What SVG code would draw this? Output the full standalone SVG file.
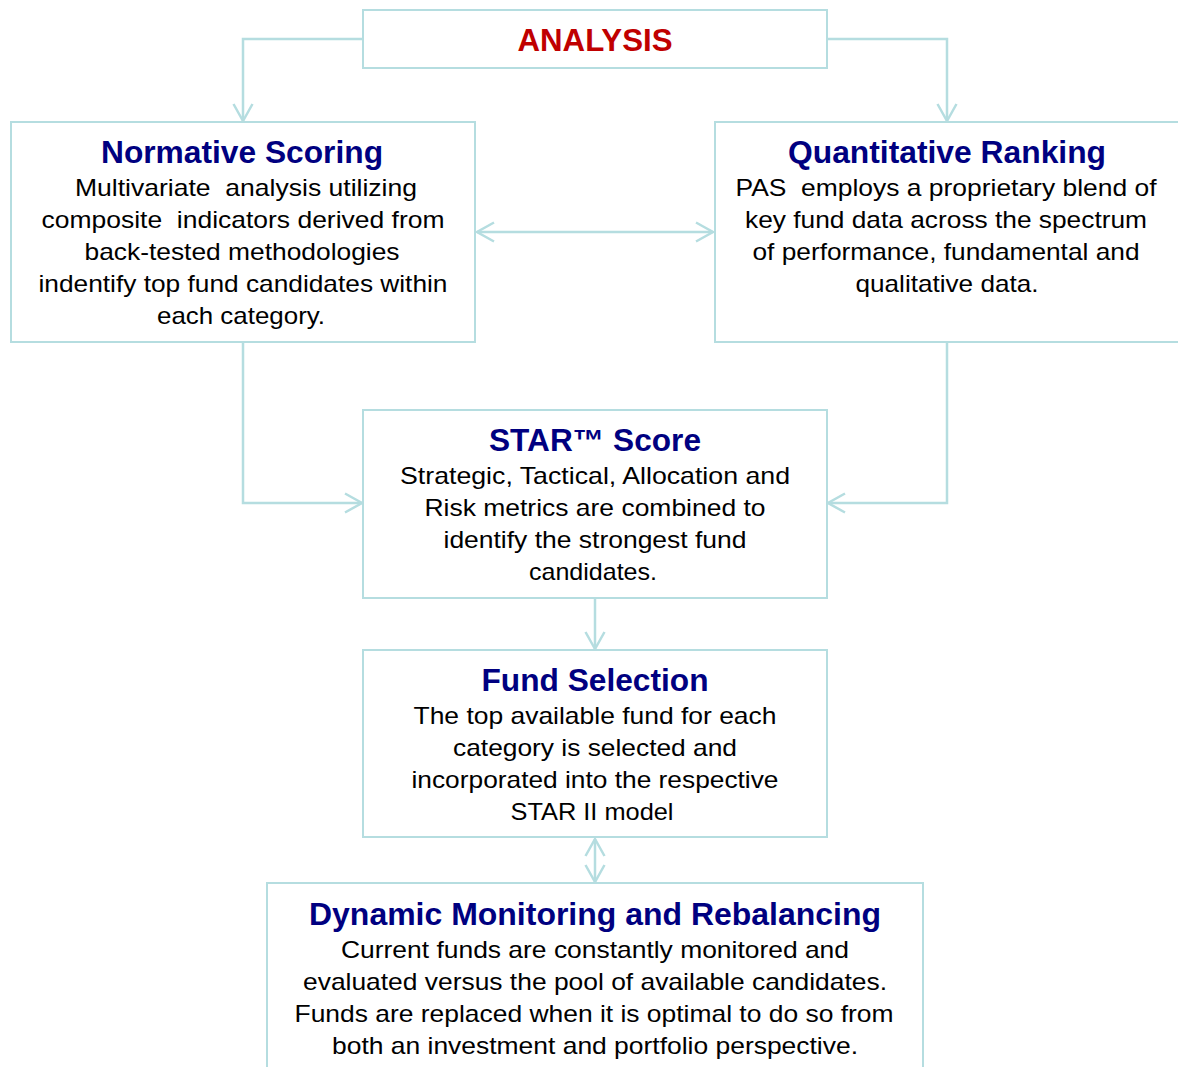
<svg xmlns="http://www.w3.org/2000/svg" width="1178" height="1067" viewBox="0 0 1178 1067">
<defs>
<style>
.box{fill:#fff;stroke:#B5DDE0;stroke-width:2}
.con{fill:none;stroke:#B5DDE0;stroke-width:2.5}
.title{font-family:"Liberation Sans",Arial,sans-serif;font-weight:bold;font-size:31px;fill:#000080;text-anchor:middle}
.body{font-family:"Liberation Sans",Arial,sans-serif;font-size:24px;fill:#000;text-anchor:middle;white-space:pre}
.head{font-family:"Liberation Sans",Arial,sans-serif;font-weight:bold;font-size:32px;fill:#C00000;text-anchor:middle}
</style>
<marker id="arr" markerUnits="userSpaceOnUse" markerWidth="24" markerHeight="24" viewBox="-20 -12 22 24" refX="0" refY="0" orient="auto-start-reverse">
<path d="M-17,-9.5 L0,0 L-17,9.5" fill="none" stroke="#B5DDE0" stroke-width="2.5"/>
</marker>
</defs>
<rect width="1178" height="1067" fill="#fff"/>
<g id="connectors">
<path class="con" d="M363,39 H243 V121" marker-end="url(#arr)"/>
<path class="con" d="M827,39 H947 V121" marker-end="url(#arr)"/>
<path class="con" d="M477,232 H713" marker-start="url(#arr)" marker-end="url(#arr)"/>
<path class="con" d="M243,342 V503 H362" marker-end="url(#arr)"/>
<path class="con" d="M947,342 V503 H828" marker-end="url(#arr)"/>
<path class="con" d="M595,598 V649" marker-end="url(#arr)"/>
<path class="con" d="M595,839 V882" marker-start="url(#arr)" marker-end="url(#arr)"/>
</g>
<g id="analysis">
<rect class="box" x="363" y="10" width="464" height="58"/>
<text class="head" x="595" y="51" textLength="155" lengthAdjust="spacingAndGlyphs">ANALYSIS</text>
</g>
<g id="normative">
<rect class="box" x="11" y="122" width="464" height="220"/>
<text class="title" x="242" y="163" textLength="282" lengthAdjust="spacingAndGlyphs">Normative Scoring</text>
<text class="body" x="246" y="196" textLength="342" lengthAdjust="spacingAndGlyphs" xml:space="preserve">Multivariate  analysis utilizing</text>
<text class="body" x="243" y="228" textLength="403" lengthAdjust="spacingAndGlyphs" xml:space="preserve">composite  indicators derived from</text>
<text class="body" x="242" y="260" textLength="315" lengthAdjust="spacingAndGlyphs">back-tested methodologies</text>
<text class="body" x="243" y="292" textLength="409" lengthAdjust="spacingAndGlyphs">indentify top fund candidates within</text>
<text class="body" x="241" y="324" textLength="168" lengthAdjust="spacingAndGlyphs">each category.</text>
</g>
<g id="quantitative">
<rect class="box" x="715" y="122" width="470" height="220"/>
<text class="title" x="947" y="163" textLength="318" lengthAdjust="spacingAndGlyphs">Quantitative Ranking</text>
<text class="body" x="946" y="196" textLength="421" lengthAdjust="spacingAndGlyphs" xml:space="preserve">PAS  employs a proprietary blend of</text>
<text class="body" x="946" y="228" textLength="402" lengthAdjust="spacingAndGlyphs">key fund data across the spectrum</text>
<text class="body" x="946" y="260" textLength="387" lengthAdjust="spacingAndGlyphs">of performance, fundamental and</text>
<text class="body" x="947" y="292" textLength="183" lengthAdjust="spacingAndGlyphs">qualitative data.</text>
</g>
<g id="star">
<rect class="box" x="363" y="410" width="464" height="188"/>
<text class="title" x="595" y="451" textLength="212" lengthAdjust="spacingAndGlyphs">STAR™ Score</text>
<text class="body" x="595" y="484" textLength="390" lengthAdjust="spacingAndGlyphs">Strategic, Tactical, Allocation and</text>
<text class="body" x="595" y="516" textLength="341" lengthAdjust="spacingAndGlyphs">Risk metrics are combined to</text>
<text class="body" x="595" y="548" textLength="303" lengthAdjust="spacingAndGlyphs">identify the strongest fund</text>
<text class="body" x="593" y="580" textLength="128" lengthAdjust="spacingAndGlyphs">candidates.</text>
</g>
<g id="fund-selection">
<rect class="box" x="363" y="650" width="464" height="187"/>
<text class="title" x="595" y="691" textLength="227" lengthAdjust="spacingAndGlyphs">Fund Selection</text>
<text class="body" x="595" y="724" textLength="363" lengthAdjust="spacingAndGlyphs">The top available fund for each</text>
<text class="body" x="595" y="756" textLength="284" lengthAdjust="spacingAndGlyphs">category is selected and</text>
<text class="body" x="595" y="788" textLength="367" lengthAdjust="spacingAndGlyphs">incorporated into the respective</text>
<text class="body" x="592" y="820" textLength="163" lengthAdjust="spacingAndGlyphs">STAR II model</text>
</g>
<g id="dynamic">
<rect class="box" x="267" y="883" width="656" height="200"/>
<text class="title" x="595" y="925" textLength="572" lengthAdjust="spacingAndGlyphs">Dynamic Monitoring and Rebalancing</text>
<text class="body" x="595" y="958" textLength="508" lengthAdjust="spacingAndGlyphs">Current funds are constantly monitored and</text>
<text class="body" x="595" y="990" textLength="584" lengthAdjust="spacingAndGlyphs">evaluated versus the pool of available candidates.</text>
<text class="body" x="594" y="1022" textLength="599" lengthAdjust="spacingAndGlyphs">Funds are replaced when it is optimal to do so from</text>
<text class="body" x="595" y="1054" textLength="526" lengthAdjust="spacingAndGlyphs">both an investment and portfolio perspective.</text>
</g>
</svg>
